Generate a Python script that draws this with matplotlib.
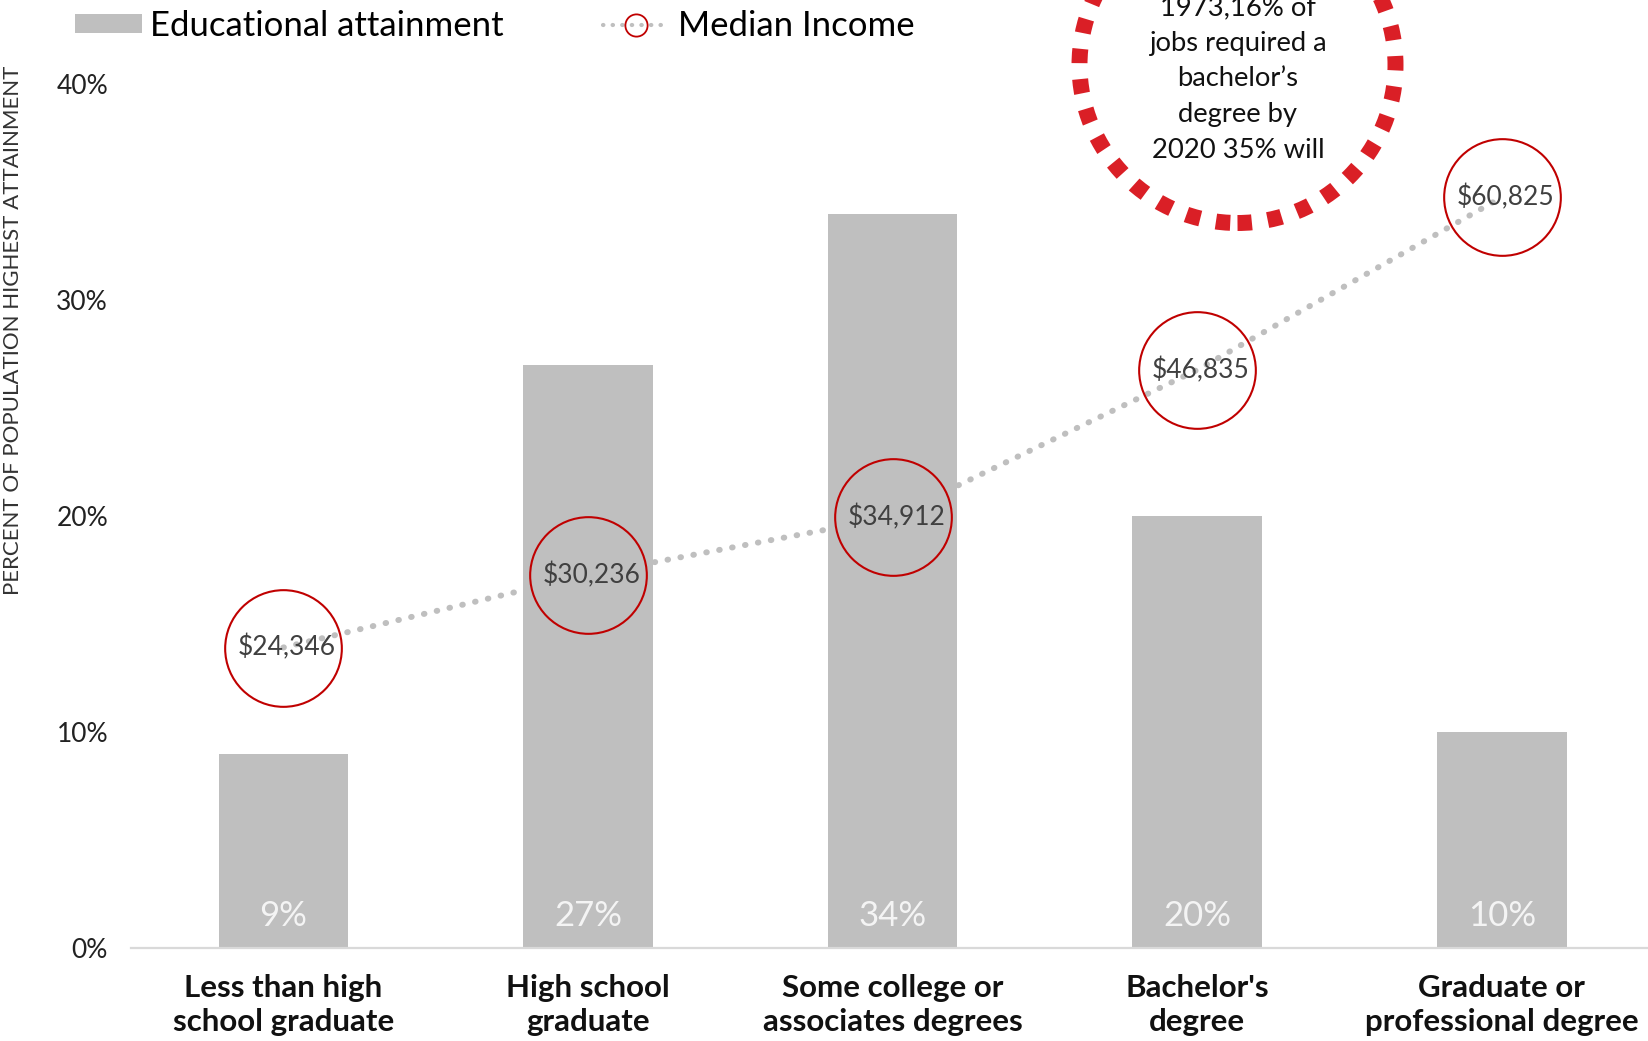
import matplotlib
matplotlib.use("Agg")
import matplotlib.pyplot as plt
from matplotlib.patches import Circle, Patch
from matplotlib.lines import Line2D

# -----------------------------
# Data
# -----------------------------
categories = [
    "Less than high\nschool graduate",
    "High school\ngraduate",
    "Some college or\nassociates degrees",
    "Bachelor's\ndegree",
    "Graduate or\nprofessional degree",
]
attainment = [9, 27, 34, 20, 10]
median_income = [24346, 30236, 34912, 46835, 60825]

y_ticks = [0, 10, 20, 30, 40]
callout_text = "1973,16% of\njobs required a\nbachelor\u2019s\ndegree by\n2020 35% will"

BAR_COLOR = "#BFBFBF"
RING_COLOR = "#C00000"
CALLOUT_RED = "#DA1F26"
TEXT_DARK = "#404040"

plt.rcParams["font.family"] = ["Lato", "DejaVu Sans"]

W, H = 1648, 1041
fig = plt.figure(figsize=(W / 100, H / 100), dpi=100)

ax = fig.add_axes([131 / W, 93 / H, 1 - 131 / W, 864 / H])
x = list(range(len(categories)))

ax.bar(x, attainment, width=0.425, color=BAR_COLOR, zorder=2)

for xi, v in zip(x, attainment):
    ax.text(xi, 1.5, f"{v}%", ha="center", va="center",
            fontsize=25, color="#F4F4F4", zorder=3)

ax.set_xlim(-0.5, 4.48)
ax.set_ylim(0, 40)
ax.set_yticks(y_ticks)
ax.set_yticklabels([f"{t}%" for t in y_ticks], fontsize=19, color="#222222")
ax.set_xticks(x)
ax.set_xticklabels(categories, fontsize=22.5, fontweight="bold",
                   color="#111111", linespacing=1.24)
ax.tick_params(axis="both", length=0)
ax.tick_params(axis="y", pad=16.5)
ax.tick_params(axis="x", pad=19)

for side in ["top", "right", "left"]:
    ax.spines[side].set_visible(False)
ax.spines["bottom"].set_color("#D9D9D9")
ax.spines["bottom"].set_linewidth(1.6)

ax.set_ylabel("PERCENT OF POPULATION HIGHEST ATTAINMENT", fontsize=16,
              color="#333333")
ax.yaxis.set_label_coords(-0.0712, 0.715)

# median income on a hidden secondary scale
ax2 = ax.twinx()
ax2.set_ylim(0, 70000)
ax2.axis("off")
ax2.plot(x, median_income, color=BAR_COLOR, lw=4.3,
         linestyle=(0, (0.1, 2.1)), dash_capstyle="round",
         marker="o", markersize=84, markerfacecolor="none",
         markeredgecolor=RING_COLOR, markeredgewidth=1.5,
         clip_on=False, zorder=4)

for xi, v in zip(x, median_income):
    ax2.text(xi + 0.012, v, f"${v:,}", ha="center", va="center",
             fontsize=19, color=TEXT_DARK, zorder=5, clip_on=False)

# callout ring
ring = Circle((1237.5 / 100, (H - 65) / 100), 1.58,
              transform=fig.dpi_scale_trans, fill=False,
              edgecolor=CALLOUT_RED, linewidth=11.5,
              linestyle=(0, (0.9, 1.0)))
ring.set_capstyle("butt")
fig.add_artist(ring)

fig.text(1238 / W, 1 - 79 / H, callout_text, ha="center", va="center",
         fontsize=19.7, color="#111111", linespacing=1.53)

# legend
handles = [
    Patch(facecolor=BAR_COLOR, edgecolor="none", label="Educational attainment"),
    Line2D([], [], color=BAR_COLOR, lw=3, linestyle=(0, (0.1, 2.2)),
           dash_capstyle="round", marker="o", markersize=16,
           markerfacecolor="none", markeredgecolor=RING_COLOR,
           markeredgewidth=1.3, label="Median Income"),
]
fig.legend(handles=handles, loc="center left",
           bbox_to_anchor=(75 / W, 1 - 26 / H), ncol=2, frameon=False,
           fontsize=25, handlelength=1.93, handleheight=0.46,
           handletextpad=0.23, columnspacing=2.85,
           borderpad=0, borderaxespad=0, numpoints=1)

fig.savefig("out.png", dpi=100)
